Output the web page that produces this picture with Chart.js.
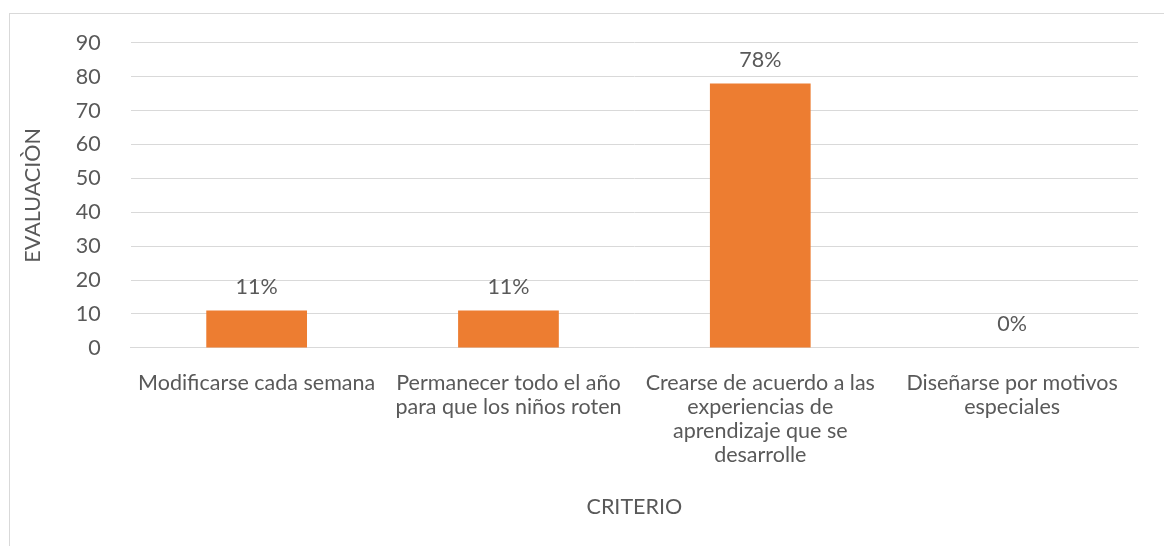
<!DOCTYPE html>
<html><head><meta charset="utf-8">
<script src="https://cdn.jsdelivr.net/npm/chart.js@4/dist/chart.umd.min.js"></script>
<style>
html,body{margin:0;padding:0;background:#fff;}
#wrap{position:relative;width:1164px;height:546px;overflow:hidden;}
#frame{position:absolute;left:9px;top:13px;width:1200px;height:600px;border:1px solid #d9d9d9;box-sizing:border-box;}
canvas{position:absolute;left:0;top:0;}
</style></head><body>
<div id="wrap"><div id="frame"></div><canvas id="c" width="1164" height="546"></canvas></div>
<script>
const categories = [
  ["Modificarse cada semana"],
  ["Permanecer todo el año","para que los niños roten"],
  ["Crearse de acuerdo a las","experiencias de","aprendizaje que se","desarrolle"],
  ["Diseñarse por motivos","especiales"]
];
const values = [11, 11, 78, 0];
const valueLabels = ["11%", "11%", "78%", "0%"];
const yTitle = "EVALUACIÒN";
const xTitle = "CRITERIO";

const FONT = "Lato, 'Open Sans', sans-serif";
const TXT = "#595959";
const FS = 21.5;

const labelPlugin = {
  id: 'vlabels',
  afterDatasetsDraw(chart) {
    const ctx = chart.ctx;
    const meta = chart.getDatasetMeta(0);
    ctx.save();
    ctx.font = FS + "px " + FONT;
    ctx.fillStyle = TXT;
    ctx.textAlign = 'center';
    ctx.textBaseline = 'middle';
    meta.data.forEach((bar, i) => {
      ctx.fillText(valueLabels[i], bar.x, bar.y - 24);
    });
    ctx.restore();
  }
};

new Chart(document.getElementById('c'), {
  type: 'bar',
  data: {
    labels: categories,
    datasets: [{ data: values, backgroundColor: '#ED7D31', barPercentage: 0.4, categoryPercentage: 1.0 }]
  },
  options: {
    responsive: false,
    animation: false,
    layout: { padding: { left: 20, right: 26, top: 30, bottom: 22 } },
    plugins: { legend: { display: false }, tooltip: { enabled: false } },
    scales: {
      x: {
        grid: { display: false },
        border: { color: '#d9d9d9', width: 1 },
        ticks: { color: TXT, font: { family: FONT, size: FS, lineHeight: 1.12 }, maxRotation: 0, autoSkip: false, padding: 15 },
        title: { display: true, text: xTitle, color: TXT, font: { family: FONT, size: FS }, padding: { top: 12 } }
      },
      y: {
        min: 0, max: 90,
        ticks: { stepSize: 10, color: TXT, font: { family: FONT, size: FS }, padding: 30 },
        grid: { color: '#d9d9d9', drawTicks: false },
        border: { display: false },
        title: { display: true, text: yTitle, color: TXT, font: { family: FONT, size: FS }, padding: 0 }
      }
    }
  },
  plugins: [labelPlugin]
});
</script>
</body></html>
